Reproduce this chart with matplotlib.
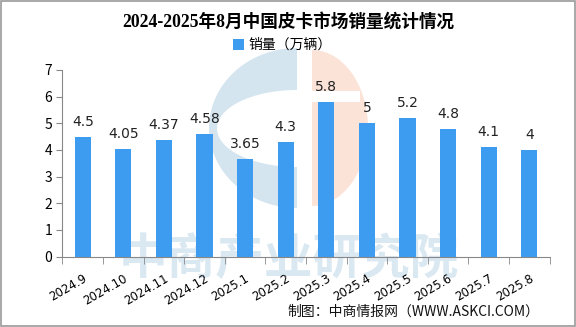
import numpy as np
import matplotlib.pyplot as plt
from matplotlib.patches import Polygon, Rectangle

plt.rcParams["font.family"] = ["Noto Sans CJK SC", "DejaVu Sans"]

months = ['2024.9', '2024.10', '2024.11', '2024.12', '2025.1', '2025.2',
          '2025.3', '2025.4', '2025.5', '2025.6', '2025.7', '2025.8']
sales = [4.5, 4.05, 4.37, 4.58, 3.65, 4.3, 5.8, 5, 5.2, 4.8, 4.1, 4]
labels = ['4.5', '4.05', '4.37', '4.58', '3.65', '4.3', '5.8', '5', '5.2', '4.8', '4.1', '4']

W, H = 576, 327
fig = plt.figure(figsize=(W / 100, H / 100), dpi=100)
fig.patch.set_facecolor('white')

# 외곽 테두리
fig.add_artist(Rectangle((0.002, 0.003), 0.996, 0.994, transform=fig.transFigure,
                         fill=False, edgecolor='#9a9a9a', linewidth=1.2))


def px(points):
    # 픽셀 좌표(위에서 아래) -> 인치 좌표
    pts = np.asarray(points, dtype=float)
    return np.column_stack([pts[:, 0] / 100, (H - pts[:, 1]) / 100])


# 워터마크 로고 - 파란 C 모양
t = np.linspace(np.pi / 2, 3 * np.pi / 2, 60)
outer = np.column_stack([297 + 88 * np.cos(t), 128 - 80 * np.sin(t)])
inner = np.column_stack([297 + 80 * np.cos(t[::-1]), 128.5 - 38.5 * np.sin(t[::-1])])
fig.add_artist(Polygon(px(np.vstack([outer, inner])), closed=True,
                       transform=fig.dpi_scale_trans, facecolor='#d4e5ef',
                       edgecolor='none', zorder=-1))
# 워터마크 로고 - 주황 반원
t2 = np.linspace(np.pi / 2, -np.pi / 2, 60)
half = np.column_stack([312 + 56 * np.cos(t2), 128 - 78 * np.sin(t2)])
notch = np.array([[312, 102], [360, 102], [360, 91], [312, 91]])
fig.add_artist(Polygon(px(np.vstack([half, notch])), closed=True,
                       transform=fig.dpi_scale_trans, facecolor='#fbe3d7',
                       edgecolor='none', zorder=-1))
fig.text(0.502, 0.205, '中商产业研究院', fontsize=35, color='#dae8f2', ha='center',
         va='center', fontweight='bold', zorder=-1)

ax = fig.add_axes([0.1085, 0.215, 0.8455, 0.5715])
ax.set_facecolor('none')
x = np.arange(len(months))
bars = ax.bar(x, sales, width=0.4, color='#3d9cf0', label='销量（万辆）', zorder=2)

for xi, v, t in zip(x, sales, labels):
    ax.text(xi, v + 0.3, t, ha='center', va='bottom', fontsize=10, color='#222222',
            family=['DejaVu Sans'])

ax.set_xlim(-0.5, len(months) - 0.5)
ax.set_ylim(0, 7)
ax.set_yticks(range(0, 8))
ax.set_xticks(x)
ax.set_xticklabels(months, rotation=30, ha='right', va='top', rotation_mode='anchor',
                   fontsize=8.5, family=['DejaVu Sans'])
ax.set_xticks(np.arange(-0.5, len(months)), minor=True)
ax.tick_params(axis='x', which='major', length=0, pad=11)
ax.tick_params(axis='x', which='minor', length=5, color='#888888')
ax.tick_params(axis='y', labelsize=10, length=4, color='#888888')
for s in ['top', 'right']:
    ax.spines[s].set_visible(False)
ax.spines['left'].set_color('#888888')
ax.spines['bottom'].set_color('#888888')

fig.text(0.5, 0.933, '2024-2025年8月中国皮卡市场销量统计情况', ha='center', va='center',
         fontsize=12.7, fontweight='bold', family=['Liberation Serif', 'Noto Sans CJK SC'])
fig.legend(loc='center', bbox_to_anchor=(0.49, 0.862), frameon=False, fontsize=10,
           handlelength=0.8, handleheight=0.8, handletextpad=0.3)
fig.text(0.937, 0.046, '制图：中商情报网（WWW.ASKCI.COM）', ha='right', va='center',
         fontsize=10, color='#111111')

fig.savefig('out.png', dpi=100)
